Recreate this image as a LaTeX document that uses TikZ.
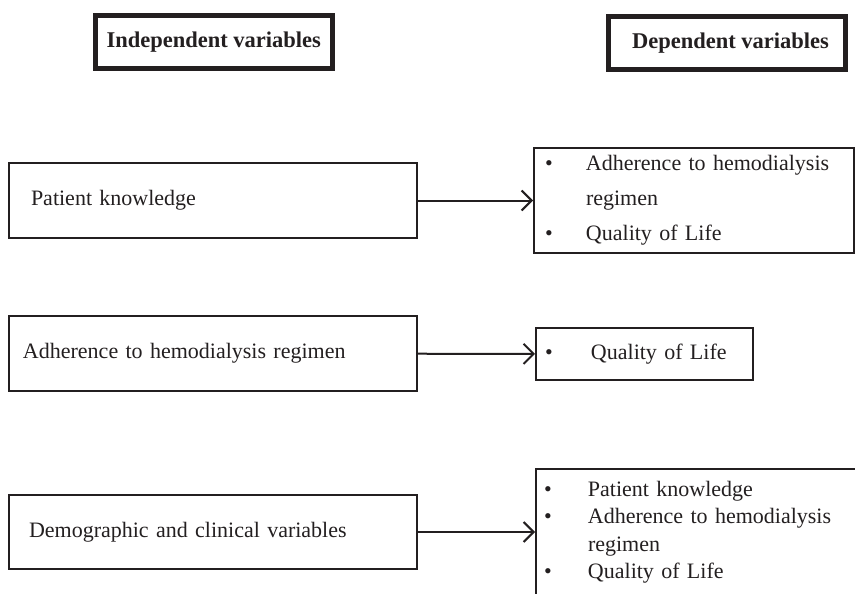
\documentclass[tikz,border=0pt]{standalone}
\usepackage{fontspec}
\setmainfont{Liberation Serif}
\usepackage{xcolor}
\definecolor{lineGray}{HTML}{231F20}
\definecolor{darkText}{HTML}{231F20}
\usepackage{tikz}
\usetikzlibrary{
    arrows.meta,
    positioning
}
\setlength{\parindent}{0pt}
% bullet item and its continuation line
\newcommand{\bulitem}[2][41pt]{\makebox[#1][l]{\textbullet}#2}
\newcommand{\bulcont}[2][41pt]{\hspace*{#1}#2}
\tikzset{
    % Base style for all boxes
    plain base/.style={
        rectangle,
        anchor=north west,
        font=\fontsize{22}{27}\selectfont,
        align=left,
        text=darkText,
        draw=lineGray,
        line width=2pt,
        inner ysep=0pt,
    },
    % Header boxes - thick frame, bold text
    header/.style={
        plain base,
        align=center,
        line width=5pt,
        font=\fontsize{22.5}{27}\selectfont\bfseries,
    },
    % Independent variable boxes
    indep/.style={
        plain base,
        minimum width=408pt,
        minimum height=75pt,
    },
    % Dependent variable boxes with bullets
    dep/.style={
        plain base,
    },
    % Simple arrow with open barb
    arrow/.style={
        -{Straight Barb[length=10pt, width=20pt]},
        line width=2pt,
        draw=lineGray,
    },
}

\begin{document}
\begin{tikzpicture}[x=1pt, y=-1pt]
    \useasboundingbox (0,0) rectangle (855,594);
    \clip (0,0) rectangle (855,594);

    % headers
    \node (indep_head) [header, minimum width=237.5pt, minimum height=52.5pt] at (92.5,13.5) {Independent variables};
    \node (dep_head) [header, minimum width=237pt, minimum height=53pt] at (605.5,14.5) {\hspace*{8pt}Dependent variables};

    % independent variables
    \node (knowledge) [indep, inner xsep=22pt, text width=364pt] at (8,162) {Patient knowledge};
    \node (adherence) [indep, inner xsep=14pt, text width=380pt] at (8,315) {Adherence to hemodialysis regimen};
    \node (demographic) [indep, inner xsep=20pt, text width=368pt, minimum height=74pt] at (8,494) {Demographic and clinical variables};

    % dependent variables
    \node (dep_knowledge) [dep, inner xsep=11pt, text width=298pt, minimum height=105pt,
        font=\fontsize{22}{35}\selectfont] at (533,147)
        {\bulitem{Adherence to hemodialysis}\\ \bulcont{regimen}\\ \bulitem{Quality of Life}};
    \node (dep_adherence) [dep, inner xsep=9pt, text width=199pt, minimum height=52pt] at (535,327)
        {\bulitem[46pt]{Quality of Life}};
    \node (dep_demographic) [dep, inner xsep=8pt, inner ysep=12pt, text width=330pt,
        font=\fontsize{22}{27.5}\selectfont] at (535,468)
        {\bulitem[44pt]{Patient knowledge}\\ \bulitem[44pt]{Adherence to hemodialysis}\\
         \bulcont[44pt]{regimen}\\ \bulitem[44pt]{Quality of Life}\rule[-40pt]{0pt}{40pt}};

    \draw [arrow] (knowledge) -- (dep_knowledge);
    \draw [arrow] (adherence) -- (dep_adherence);
    \draw [arrow] (demographic.east) -- (demographic.east -| dep_demographic.west);
\end{tikzpicture}
\end{document}
